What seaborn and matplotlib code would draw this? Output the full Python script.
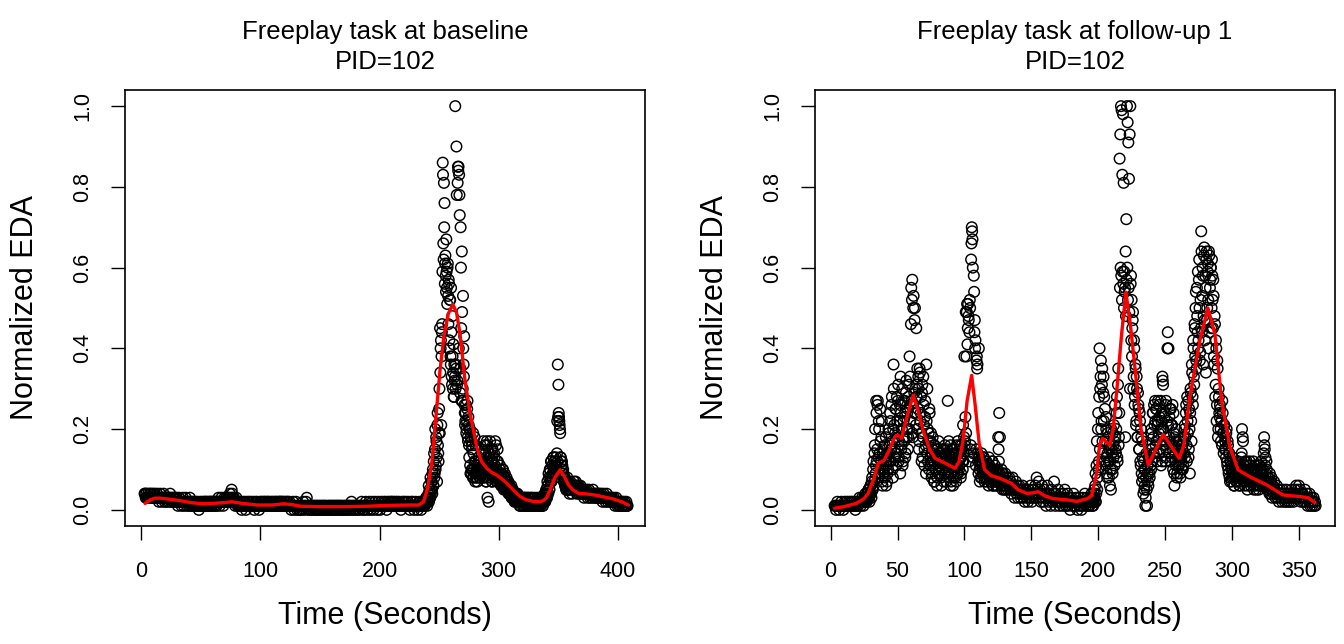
import numpy as np
import matplotlib
matplotlib.use("Agg")
import matplotlib.pyplot as plt
import seaborn as sns

# ---------------- data ----------------
# EDA samples every 0.5 s starting at t = 3 s, values in hundredths of normalized EDA
sample_start = 3.0
sample_step = 0.5

baseline_eda_pct = [
    4,4,3,4,3,3,4,3,3,4,3,4,3,3,4,3,3,4,3,3,
    3,4,3,3,2,3,4,3,3,2,3,3,4,3,2,3,3,2,3,3,
    3,2,3,4,3,2,2,3,2,3,2,3,2,2,3,2,1,2,3,2,
    2,2,1,2,3,2,1,2,2,3,2,1,2,2,1,2,3,2,1,2,
    1,2,1,1,2,1,2,1,1,2,1,0,1,2,1,1,2,1,1,2,
    1,2,1,2,2,1,1,2,1,2,2,1,2,1,2,2,1,2,2,1,
    2,1,2,2,3,2,1,2,2,3,2,2,1,2,3,2,2,3,2,2,
    3,2,3,4,2,3,5,4,3,2,3,2,1,2,3,2,1,2,1,1,
    1,2,1,0,1,2,1,1,2,1,0,1,2,1,1,2,1,1,2,1,
    1,1,2,1,0,1,2,1,1,2,1,1,0,1,2,1,2,1,1,2,
    1,2,1,2,1,1,2,2,1,1,2,1,1,2,1,2,1,1,2,1,
    2,1,2,1,1,2,2,1,2,1,2,2,1,1,2,1,2,1,1,2,
    2,1,1,2,1,1,0,1,1,2,1,0,1,1,2,1,0,1,1,0,
    1,0,1,1,0,1,2,1,0,1,1,2,3,1,0,1,1,0,1,1,
    0,1,1,0,1,1,0,1,0,1,1,0,1,0,1,1,0,1,0,1,
    1,0,1,1,0,1,0,0,1,1,0,1,1,0,1,0,1,1,0,1,
    0,1,1,0,1,1,0,1,1,0,1,1,0,0,1,1,0,1,1,0,
    1,1,0,1,1,0,1,2,1,0,1,1,0,1,1,0,1,1,0,1,
    1,0,1,1,2,1,0,1,1,0,1,2,1,1,0,1,1,2,1,0,
    1,1,2,1,0,1,1,2,1,1,0,1,2,1,1,0,1,2,1,1,
    1,2,1,1,2,1,0,1,2,1,1,2,1,1,2,2,1,1,2,1,
    1,2,1,1,2,1,1,2,1,1,0,1,2,1,1,2,1,1,2,1,
    1,1,2,1,1,0,1,2,1,1,2,1,0,1,1,2,1,1,0,1,
    1,2,1,1,0,1,2,1,2,1,1,2,3,2,1,3,4,2,5,3,
    4,7,5,9,6,12,8,15,10,18,13,21,16,12,25,19,34,42,38,46,
    86,66,81,76,61,58,67,55,60,53,57,42,52,38,55,33,48,30,41,28,
    32,100,36,90,31,81,84,40,78,29,70,45,64,27,53,36,43,24,22,26,
    20,25,18,23,16,20,11,18,9,15,10,19,8,12,9,16,8,10,7,11,
    9,11,8,12,10,14,9,11,17,8,12,10,14,7,17,3,12,2,9,13,
    8,15,10,7,12,9,14,8,17,10,7,12,15,8,9,7,11,8,6,9,
    7,10,6,8,9,5,7,8,5,6,7,4,6,5,4,6,3,5,4,3,
    3,4,2,3,4,2,3,2,3,1,2,3,2,2,1,3,2,1,2,3,
    2,1,2,3,1,2,1,2,3,2,1,2,2,1,3,2,1,2,2,1,
    2,1,3,2,1,2,3,2,1,2,3,4,2,3,5,3,6,4,8,5,
    10,7,12,8,11,9,13,10,12,9,13,11,22,36,31,23,21,19,13,11,
    12,9,10,7,8,6,7,5,6,8,5,7,6,5,7,5,6,4,6,5,
    7,6,5,7,6,4,6,5,6,4,5,6,4,5,4,5,4,3,5,4,
    4,5,4,3,4,5,4,3,4,4,3,4,5,4,3,4,3,4,3,4,
    3,4,3,4,3,3,4,3,2,3,4,3,3,2,3,4,3,2,3,3,
    3,2,3,2,3,2,2,3,2,1,2,3,2,1,2,2,1,2,1,2,
    2,1,2,1,1,2,1,1,2,1,1,
]

# extra in-between samples (t + 0.25 s) during the active part of the baseline task
baseline_extra_start = 240.25
baseline_extra_pct = [
    2,3,6,4,3,8,5,7,4,10,6,14,9,20,11,17,7,24,14,19,
    30,45,40,21,44,59,83,62,70,56,63,54,59,51,61,46,56,40,52,36,
    44,31,38,34,28,36,33,30,35,78,32,85,85,83,73,35,60,27,49,30,
    40,33,26,21,24,19,22,27,17,21,13,20,9,17,10,16,8,14,10,18,
    7,12,9,8,11,10,13,9,8,12,10,15,9,11,14,8,16,10,7,13,
    16,11,8,14,10,17,9,12,7,15,10,8,13,11,9,16,10,7,12,9,
    8,10,7,9,6,8,10,7,5,8,6,7,5,6,7,5,4,6,5,4,
    5,3,4,5,3,4,2,3,4,2,3,4,2,3,2,3,1,2,3,2,
    2,3,1,2,3,2,1,2,2,3,1,2,2,1,2,3,2,1,2,2,
    1,2,2,1,3,2,1,2,2,1,2,3,2,1,2,3,2,4,3,5,
    4,7,6,9,5,10,8,12,7,11,9,13,10,12,8,11,10,14,12,23,
    24,22,20,13,12,10,11,8,9,7,8,6,7,5,6,7,5,6,4,6,
]

followup_eda_pct = [
    1,1,0,1,2,1,1,0,1,1,2,1,1,0,1,2,1,1,2,1,
    1,2,1,1,2,1,2,1,1,2,1,0,1,2,1,1,2,3,2,1,
    2,3,2,1,3,2,4,3,2,4,3,5,2,4,6,3,8,5,12,7,
    16,9,27,12,26,8,22,14,25,10,18,7,14,11,9,16,12,6,13,9,
    10,19,14,24,12,26,17,8,36,21,15,25,11,28,18,31,13,22,9,24,
    16,30,12,22,17,27,14,32,20,25,18,31,38,22,46,27,57,18,53,29,
    50,24,45,31,20,33,15,35,22,28,12,31,18,26,11,23,16,36,14,20,
    17,10,24,13,19,8,15,11,16,7,14,10,13,6,15,11,9,14,12,8,
    13,10,15,7,12,16,9,13,11,27,14,8,12,16,7,11,13,6,10,12,
    8,11,14,9,17,12,10,15,13,9,16,12,21,14,38,17,49,38,51,45,
    48,12,52,15,62,70,67,13,58,44,40,11,37,35,14,9,13,7,11,8,
    12,9,10,13,7,11,9,12,8,10,6,11,9,7,10,8,12,6,9,7,
    8,6,10,7,9,15,24,18,8,6,9,5,7,8,6,9,5,7,8,5,
    6,8,5,7,4,6,8,5,6,3,5,7,4,6,3,5,6,4,3,5,
    4,6,3,5,2,4,5,3,4,2,5,3,4,6,3,2,4,5,3,4,
    6,3,8,5,4,7,3,5,2,4,6,3,2,5,4,3,1,4,6,3,
    2,4,3,1,5,3,2,4,7,3,1,4,2,3,5,2,1,3,4,2,
    3,1,4,2,5,3,1,2,4,1,3,2,0,2,3,1,2,4,1,2,
    1,3,2,0,2,1,3,2,1,0,2,3,1,2,4,2,1,3,2,1,
    2,1,3,2,4,1,3,2,5,2,9,4,17,8,24,12,40,30,37,22,
    35,14,33,28,25,11,20,9,14,18,8,16,12,5,15,10,19,13,17,26,
    15,20,28,12,35,18,87,93,100,99,83,98,81,59,55,64,72,100,96,91,
    82,93,100,58,52,45,49,33,40,28,35,22,30,18,26,15,24,12,20,9,
    17,8,12,5,10,3,14,1,9,6,13,8,15,10,19,12,24,14,21,27,
    16,25,12,22,18,26,14,20,11,24,33,31,17,23,13,26,15,22,44,40,
    18,25,12,21,16,26,10,19,6,14,11,17,9,13,16,11,14,8,13,10,
    15,11,17,20,13,24,16,28,19,13,25,9,30,22,36,28,42,33,46,38,
    54,35,48,59,42,62,37,52,69,44,60,36,63,47,58,34,64,50,61,40,
    63,55,60,45,62,52,57,38,48,28,42,22,37,18,30,24,26,20,22,16,
    24,19,21,15,18,13,20,11,16,9,14,7,12,10,8,13,9,6,11,8,
    10,7,12,8,9,6,11,7,13,20,18,9,11,6,10,8,12,5,9,7,
    8,11,6,9,10,7,12,5,8,10,6,9,7,11,5,8,6,10,7,9,
    6,8,18,15,13,7,10,5,8,6,4,7,5,8,3,6,4,7,5,3,
    4,6,3,5,2,4,5,3,4,2,5,3,4,2,3,5,2,4,3,2,
    3,4,2,5,3,4,2,3,5,4,6,3,5,4,6,3,5,2,4,3,
    4,2,3,5,2,3,4,1,3,2,4,1,2,3,1,2,3,1,2,1,
]

# extra in-between samples (t + 0.25 s) during the two active parts of the follow-up task
followup_extra_a_start = 25.25
followup_extra_a_pct = [
    2,3,3,2,4,3,5,3,4,6,4,7,5,10,6,14,20,11,24,15,
    27,13,20,9,17,12,22,6,15,10,13,8,18,11,7,14,20,12,16,22,
    15,28,10,20,30,13,19,25,14,22,27,12,17,26,33,15,20,11,27,18,
    23,13,29,18,24,15,28,20,33,26,55,52,19,50,24,47,30,21,28,35,
    25,30,17,34,24,19,29,13,33,21,15,27,9,22,30,12,19,25,11,17,
    14,9,18,12,7,16,13,10,15,8,12,17,9,11,14,6,10,13,15,9,
    11,14,7,12,15,9,17,10,13,6,9,15,11,8,14,10,12,7,16,11,
    9,14,11,16,8,13,15,10,12,18,16,23,19,49,41,51,47,44,50,16,
    66,69,60,14,54,47,42,15,38,36,12,40,10,12,8,14,11,9,13,10,
    8,12,10,7,11,9,13,8,10,7,9,12,6,10,8,11,7,9,6,10,
    18,12,9,7,8,10,6,9,7,5,
]
followup_extra_b_start = 195.25
followup_extra_b_pct = [
    2,3,1,4,3,6,2,11,5,20,10,28,15,33,20,31,17,29,22,12,
    17,23,13,8,19,12,15,6,10,20,14,9,16,21,11,18,14,24,13,31,
    16,24,55,60,58,52,59,56,50,54,18,48,57,60,52,55,49,30,56,42,
    38,47,30,42,26,36,21,33,18,29,25,15,22,11,18,7,13,4,10,6,
    1,8,5,11,7,13,9,16,11,20,15,24,18,26,13,22,25,17,21,27,
    19,23,15,27,22,12,32,20,16,24,12,27,18,40,21,14,23,17,25,13,
    21,15,24,9,18,12,20,8,15,11,17,13,9,14,12,16,10,18,14,21,
    18,26,12,22,27,15,20,24,29,17,34,26,40,31,45,50,37,55,44,40,
    57,50,39,45,64,53,58,48,65,42,55,62,47,59,52,64,44,57,60,50,
    58,45,53,36,46,31,40,26,35,20,28,23,25,17,22,27,19,14,21,17,
    15,19,12,17,10,14,8,12,11,7,10,12,8,6,9,11,7,10,8,12,
    9,6,11,8,14,10,17,8,10,12,7,9,11,6,10,8,12,7,10,9,
    7,10,6,9,11,8,5,9,10,7,6,11,8,12,9,6,10,14,16,11,
    9,12,7,5,8,6,9,4,7,5,
]

# smoothed curves (red)
baseline_smooth_t = [3.4, 8, 11.7, 16, 22, 32.5, 42, 51, 60, 70, 76.3, 85, 97.5, 110,
                     119.6, 127, 134, 150, 170, 190, 206, 225, 233, 236.8, 240, 243.8,
                     247, 250.7, 254, 257.7, 261.4, 264.5, 267.5, 271.7, 275.9, 281.5,
                     285.5, 289.9, 294, 298.3, 302, 306.7, 312, 317.8, 323, 329, 334,
                     337.4, 340, 343, 347, 351.4, 354.5, 358.4, 362, 366.7, 372, 380,
                     388, 396, 403, 408.7]
baseline_smooth_v = [.016, .025, .029, .029, .027, .023, .018, .015, .016, .018, .02, .016,
                     .012, .012, .015, .013, .009, .008, .008, .009, .011, .012, .012, .02,
                     .05, .115, .22, .345, .43, .486, .509, .49, .436, .32, .239, .156,
                     .12, .103, .093, .086, .078, .066, .05, .033, .025, .021, .02, .023,
                     .03, .05, .08, .099, .085, .062, .05, .041, .04, .037, .032, .027,
                     .02, .012]

followup_smooth_t = [3, 10, 19, 25, 28, 32, 35.6, 40, 44, 48, 50, 53, 57, 61.7, 65, 69, 74,
                     78, 86, 93, 96, 99, 102, 105.4, 108, 111, 115, 120, 126.5, 135, 140,
                     146.5, 151, 155, 160, 166, 176, 184, 192, 195, 198.8, 201, 203.3, 206,
                     208.7, 211.3, 214, 217.5, 220.7, 224, 227.4, 232, 237.4, 243, 248.5,
                     254, 260.5, 264, 268.5, 276, 282, 287.2, 292.2, 298.4, 304.6, 313.4,
                     325.9, 338, 350.6, 357, 362]
followup_smooth_v = [.004, .008, .016, .028, .041, .075, .115, .123, .15, .181, .185, .178,
                     .23, .284, .25, .198, .15, .128, .115, .103, .12, .173, .27, .333, .26,
                     .165, .10, .085, .078, .066, .05, .041, .042, .045, .035, .028, .025,
                     .021, .028, .035, .09, .16, .177, .168, .16, .205, .30, .436, .539,
                     .46, .354, .2, .111, .15, .187, .16, .128, .16, .28, .42, .50, .436,
                     .272, .156, .099, .082, .062, .037, .033, .03, .018]

titles = ["Freeplay task at baseline\nPID=102", "Freeplay task at follow-up 1\nPID=102"]
xticks_list = [[0, 100, 200, 300, 400], [0, 50, 100, 150, 200, 250, 300, 350]]
yticks = [0.0, 0.2, 0.4, 0.6, 0.8, 1.0]
ytick_labels = ["0.0", "0.2", "0.4", "0.6", "0.8", "1.0"]


def series(start, pct):
    v = np.asarray(pct, dtype=float) / 100.0
    t = start + sample_step * np.arange(len(v))
    return t, v


bt, bv = series(sample_start, baseline_eda_pct)
bxt, bxv = series(baseline_extra_start, baseline_extra_pct)
ft, fv = series(sample_start, followup_eda_pct)
fat, fav = series(followup_extra_a_start, followup_extra_a_pct)
fbt, fbv = series(followup_extra_b_start, followup_extra_b_pct)

panels = [
    (np.concatenate([bt, bxt]), np.concatenate([bv, bxv]),
     baseline_smooth_t, baseline_smooth_v, (-13.4, 422.6)),
    (np.concatenate([ft, fat, fbt]), np.concatenate([fv, fav, fbv]),
     followup_smooth_t, followup_smooth_v, (-11.7, 377.0)),
]

# ---------------- plotting ----------------
sns.set_theme(style="white")
plt.rcParams["font.family"] = ["Liberation Sans", "DejaVu Sans"]

fig = plt.figure(figsize=(13.44, 6.44), dpi=100)
W, H = 1344, 644
axes = [fig.add_axes([125 / W, 118 / H, 520 / W, 436 / H]),
        fig.add_axes([815 / W, 118 / H, 520 / W, 436 / H])]

for i, (ax, (t, v, st, sv, xlim)) in enumerate(zip(axes, panels)):
    sns.scatterplot(x=t, y=v, ax=ax, marker="o", s=58, facecolor="none",
                    edgecolor="black", linewidth=1.05, legend=False, zorder=2)
    sns.lineplot(x=st, y=sv, ax=ax, color="red", linewidth=2.4, errorbar=None, zorder=3)

    ax.set_xlim(*xlim)
    ax.set_ylim(-0.04, 1.04)
    ax.set_xticks(xticks_list[i])
    ax.set_xticklabels([str(x) for x in xticks_list[i]])
    ax.set_yticks(yticks)
    ax.set_yticklabels(ytick_labels, rotation=90, va="center")
    ax.tick_params(axis="both", direction="out", length=10, width=1.0, color="black",
                   labelsize=15.5, labelcolor="black", bottom=True, left=True)
    ax.tick_params(axis="x", pad=15)
    ax.tick_params(axis="y", pad=13)
    for sp in ax.spines.values():
        sp.set_visible(True)
        sp.set_color("black")
        sp.set_linewidth(1.2)
    ax.grid(False)

    ax.set_title(titles[i], fontsize=18.5, pad=15, linespacing=1.3, color="black")
    ax.set_xlabel("Time (Seconds)", fontsize=22, color="black")
    ax.set_ylabel("Normalized EDA", fontsize=22, color="black")
    ax.xaxis.set_label_coords(0.5, -0.206)
    ax.xaxis.label.set_va("center")
    ax.yaxis.set_label_coords(-0.192, 0.5)
    ax.yaxis.label.set_va("center")

fig.savefig("out.png", dpi=100, facecolor="white")
